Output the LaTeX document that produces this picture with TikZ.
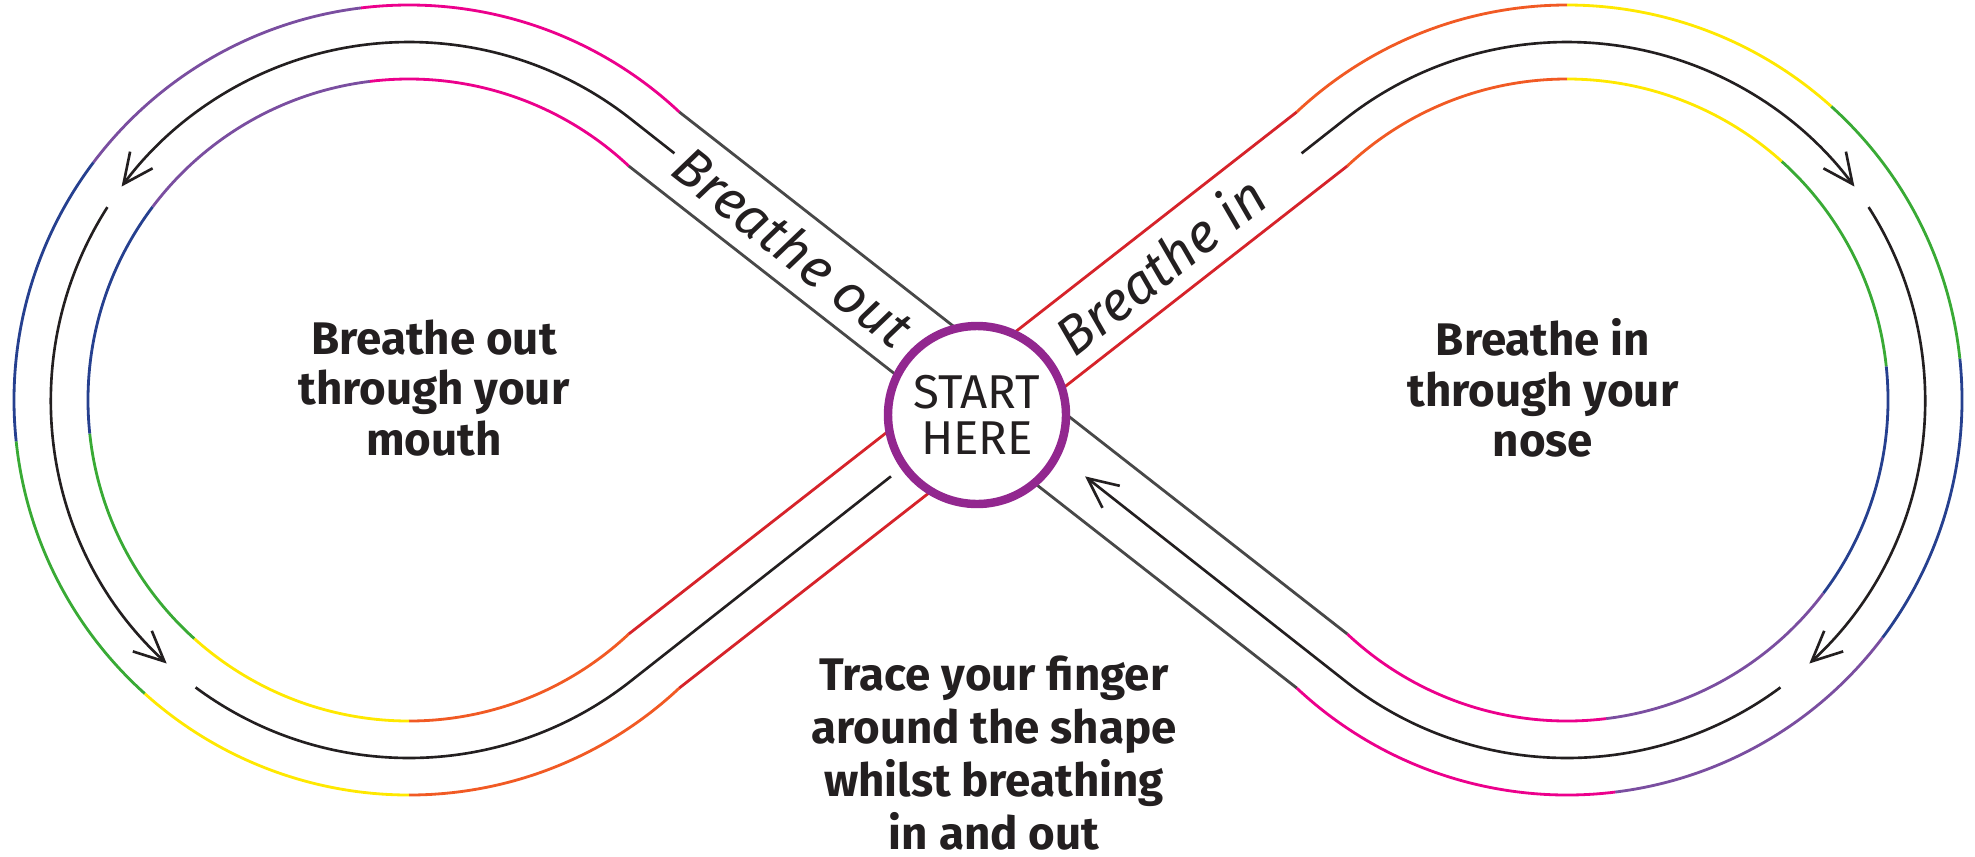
\documentclass[tikz,border=0pt]{standalone}
\usepackage{fontspec}
\setmainfont{Fira Sans}
\usetikzlibrary{arrows.meta,calc}
\definecolor{trkred}{RGB}{214,35,42}
\definecolor{trkorange}{RGB}{241,90,36}
\definecolor{trkyellow}{RGB}{255,232,0}
\definecolor{trkgreen}{RGB}{57,170,53}
\definecolor{trkblue}{RGB}{38,64,143}
\definecolor{trkpurple}{RGB}{122,78,160}
\definecolor{trkpink}{RGB}{236,0,140}
\definecolor{trkgray}{RGB}{72,72,72}
\definecolor{ringpurple}{RGB}{146,39,143}
\definecolor{ink}{RGB}{35,31,32}
\tikzset{
  trk/.style={line width=0.8pt},
  midl/.style={ink, line width=0.75pt},
  midarr/.style={midl, -{Straight Barb[length=3mm,width=2.8mm]}},
  ring/.style={circle, draw=ringpurple, fill=white, line width=2.4pt, minimum size=1.78cm,
               inner sep=0pt, align=center, text=ink, font=\fontsize{13.5}{13}\selectfont},
  lobetxt/.style={align=center, text=ink, font=\fontsize{13}{14.3}\selectfont\bfseries},
  tracetxt/.style={align=center, text=ink, font=\fontsize{13}{15}\selectfont\bfseries},
  bandtxt/.style={text=ink, font=\fontsize{15.5}{18}\selectfont\itshape},
}

\begin{document}
\begin{tikzpicture}
  \useasboundingbox (0,0) rectangle (19.75,8.56);
  \def\lobeR{3.58}
  \def\al{38.19}
  \coordinate (C) at (9.88,4.56);
  \coordinate (OL) at (4.09,4.56);
  \coordinate (OR) at (15.67,4.56);
  % rainbow edges, left lobe is the right one turned half round
  \foreach \a/\b/\col in {133.2/90/trkorange, 90/48/trkyellow, 48/6/trkgreen,
                          6/-37/trkblue, -37/-83/trkpurple, -83/-133.2/trkpink}{
    \foreach \rad in {3.95,3.21}{
      \draw[trk, \col] ($(OR)+(\a:\rad)$) arc[start angle=\a, end angle=\b, radius=\rad];
      \draw[trk, \col] ($(OL)+(\a+180:\rad)$) arc[start angle=\a+180, end angle=\b+180, radius=\rad];
    }}
  \draw[trk, trkred] ($(OR)+(133.2:3.95)$) -- ($(OL)+(313.2:3.21)$);
  \draw[trk, trkred] ($(OR)+(133.2:3.21)$) -- ($(OL)+(313.2:3.95)$);
  \draw[trk, trkgray] ($(OR)+(-133.2:3.95)$) -- ($(OL)+(46.8:3.21)$);
  \draw[trk, trkgray] ($(OR)+(-133.2:3.21)$) -- ($(OL)+(46.8:3.95)$);
  % black guide line
  \draw[midarr] ($(C)+(\al:3.99)$) -- ($(OR)+(90+\al:\lobeR)$)
      arc[start angle=90+\al, end angle=36.6, radius=\lobeR];
  \draw[midarr] ($(OR)+(32.6:\lobeR)$) arc[start angle=32.6, end angle=-47.4, radius=\lobeR];
  \draw[midarr] ($(OR)+(-53.4:\lobeR)$) arc[start angle=-53.4, end angle=-90-\al, radius=\lobeR]
      -- ($(C)+(-\al:1.235)$);
  \draw[midarr] ($(C)+(180-\al:3.99)$) -- ($(OL)+(90-\al:\lobeR)$)
      arc[start angle=90-\al, end angle=143.4, radius=\lobeR];
  \draw[midarr] ($(OL)+(147.4:\lobeR)$) arc[start angle=147.4, end angle=227.4, radius=\lobeR];
  \draw[midl] ($(OL)+(233.4:\lobeR)$) arc[start angle=233.4, end angle=270+\al, radius=\lobeR]
      -- ($(C)+(180+\al:1.235)$);
  \node[ring] (start) at (9.77,4.41) {START\\HERE};
  \node[bandtxt, rotate=-\al] (outband) at ($(C)+(180-\al:2.48)$) {Breathe out};
  \node[bandtxt, rotate=\al] (inband) at ($(C)+(\al:2.19)$) {Breathe in};
  \node[lobetxt] (outtxt) at (4.34,4.68) {Breathe out\\through your\\mouth};
  \node[lobetxt] (intxt) at (15.43,4.68) {Breathe in\\through your\\nose};
  \node[tracetxt] (trace) at (9.94,1.03) {Trace your finger\\around the shape\\whilst breathing\\in and out};
\end{tikzpicture}
\end{document}
